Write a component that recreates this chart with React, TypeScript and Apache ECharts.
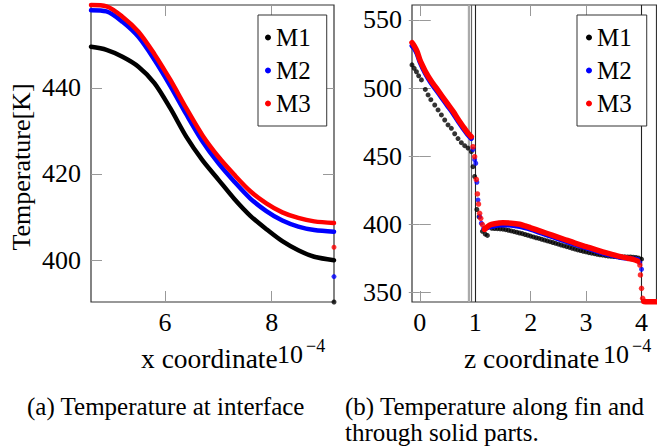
import React, { useEffect, useRef } from "react";
import * as echarts from "echarts";

// ---------- Left panel: temperature at interface ----------
const leftX = [4.61, 4.9, 5.2, 5.5, 5.8, 6.1, 6.4, 6.7, 7.0, 7.3, 7.6, 7.9, 8.2, 8.5, 8.8, 9.17];
const leftM1 = [449.5, 448.8, 447.2, 444.9, 441.1, 435.2, 428.6, 423.2, 418.7, 414.2, 410.3, 407.2, 404.4, 402.3, 400.8, 400.0];
const leftM2 = [458.0, 457.7, 455.3, 451.8, 446.5, 440.4, 433.8, 427.6, 422.5, 418.2, 414.3, 411.4, 409.2, 407.8, 407.0, 406.6];
const leftM3 = [459.2, 458.9, 456.5, 453.0, 447.8, 441.8, 435.2, 429.0, 424.0, 419.8, 416.0, 413.2, 411.1, 409.8, 409.0, 408.6];
const leftEndX = 9.17;
const leftEndM1 = 390.3;
const leftEndM2 = 396.2;
const leftEndM3 = 403.0;
const leftXTicks = [6, 8];
const leftYTicks = [400, 420, 440];

// ---------- Right panel: along fin and through solid parts ----------
const rM1Z = [-0.14, -0.1, -0.06, -0.02, 0.03, 0.1, 0.15, 0.2, 0.27, 0.33, 0.39, 0.45, 0.51, 0.57, 0.63, 0.69, 0.75, 0.81, 0.87, 0.93,
  0.96, 0.99, 1.03, 1.07, 1.13, 1.18, 1.22,
  1.3, 1.35, 1.4, 1.45, 1.5, 1.55, 1.6, 1.65, 1.7, 1.75, 1.8, 1.85, 1.9, 1.95, 2.0, 2.05, 2.1, 2.15, 2.2, 2.25, 2.3, 2.35, 2.4, 2.45, 2.5,
  2.55, 2.6, 2.65, 2.7, 2.75, 2.8, 2.85, 2.9, 2.95, 3.0, 3.05, 3.1, 3.15, 3.2, 3.25, 3.3, 3.35, 3.4, 3.45, 3.5, 3.55, 3.6, 3.65, 3.7,
  3.75, 3.8, 3.85, 3.9, 3.95, 4.0];
const rM1T = [517, 514.5, 512, 509, 506, 499, 495, 491.5, 487.6, 484, 480.3, 476.6, 473, 470.5, 466.5, 463, 460, 457.8, 456, 453.4,
  442.4, 435.2, 411, 405.7, 395, 393, 392,
  397.2, 397.1, 397.0, 396.8, 396.6, 396.2, 395.8, 395.3, 394.8, 394.3, 393.8, 393.3, 392.7, 392.1, 391.5, 390.9, 390.3, 389.8, 389.2,
  388.6, 388.0, 387.4, 386.8, 386.2, 385.6, 385.0, 384.4, 383.8, 383.2, 382.6, 382.0, 381.4, 380.9, 380.4, 379.9, 379.4, 379.0, 378.6,
  378.2, 377.8, 377.5, 377.2, 376.9, 376.7, 376.5, 376.4, 376.3, 376.3, 376.3, 376.2, 376.2, 376.0, 375.8, 375.4, 374.6];

const rM2aZ = [-0.14, -0.1, -0.05, 0, 0.1, 0.2, 0.3, 0.4, 0.5, 0.6, 0.7, 0.8, 0.87, 0.93];
const rM2aT = [531, 529, 525.3, 519.5, 510.8, 504, 498.4, 492.7, 487.1, 481.5, 475.2, 469.5, 465.6, 463];
const rM2dotZ = [0.96, 0.99, 1.01, 1.03, 1.05, 1.08, 1.11, 1.15, 3.97, 4.0];
const rM2dotT = [455, 447.5, 444.9, 431, 418, 405.7, 401, 397, 372, 367.2];
const rM2bZ = [1.2, 1.3, 1.45, 1.6, 1.75, 1.9, 2.0, 2.2, 2.4, 2.6, 2.8, 3.0, 3.2, 3.4, 3.6, 3.8, 3.93];
const rM2bT = [397.4, 398.6, 399.6, 399.6, 398.8, 397.6, 396.4, 393.6, 390.9, 388.1, 385.4, 382.8, 380.3, 378.0, 376.0, 375.0, 374.4];

const rM3aZ = [-0.14, -0.1, -0.05, 0, 0.05, 0.1, 0.2, 0.3, 0.4, 0.5, 0.6, 0.7, 0.8, 0.87, 0.93];
const rM3aT = [533.3, 531, 527, 521, 516.5, 512.3, 505.5, 499.9, 494.2, 488.6, 483, 476.6, 470.8, 466.9, 464.4];
const rM3dotZ = [0.96, 0.99, 1.02, 1.04, 1.06, 1.08, 1.1, 1.13, 1.17, 3.97, 3.98, 4.0, 4.02];
const rM3dotT = [457, 449.7, 433, 422.4, 415, 408.2, 404.5, 400, 396.5, 370.3, 363, 353.2, 345.9];
const rM3bZ = [1.17, 1.26, 1.35, 1.5, 1.65, 1.8, 1.9, 2.0, 2.2, 2.4, 2.6, 2.8, 3.0, 3.2, 3.4, 3.6, 3.75, 3.85, 3.93];
const rM3bT = [396.5, 399.6, 400.6, 401.2, 401.0, 400.2, 399.0, 397.6, 394.8, 392.0, 389.2, 386.4, 383.8, 381.2, 378.8, 376.6, 375.3, 374.4, 373.2];
const rM3cZ = [4.04, 4.1, 4.2, 4.27];
const rM3cT = [343.6, 343.4, 343.4, 343.4];

const rightXTicks = [0, 1, 2, 3, 4];
const rightYTicks = [350, 400, 450, 500, 550];
const boundaryLinesGray = [0.872, 0.893, 0.915];
const boundaryLinesBlack = [1.0, 4.0];

const seriesNames = ["M1", "M2", "M3"];
const seriesColors = ["#000000", "#0000ff", "#ff0000"];

const FONT = "Liberation Serif";

function pairs(xs: number[], ys: number[]) {
  return xs.map((x, i) => [x, ys[i]]);
}

export default function App() {
  const ref = useRef<HTMLDivElement>(null);

  useEffect(() => {
    if (!ref.current) return;
    const chart = echarts.init(ref.current, undefined, { renderer: "svg" });

    const tick = (vals: number[]) => ({
      show: true,
      inside: true,
      length: 11,
      customValues: vals,
      lineStyle: { color: "#999", width: 1 },
    });
    const label = (vals: number[], show: boolean, margin: number) => ({
      show,
      customValues: vals,
      fontSize: 26,
      lineHeight: 20,
      fontFamily: FONT,
      color: "#000",
      margin,
    });
    const valueAxis = (gridIndex: number, position: string, min: number, max: number, vals: number[], showLabel: boolean, margin: number) => ({
      type: "value",
      gridIndex,
      position,
      min,
      max,
      scale: true,
      axisLine: { show: false },
      splitLine: { show: false },
      axisTick: tick(vals),
      axisLabel: label(vals, showLabel, margin),
    });

    const L = { xMin: 4.61, xMax: 9.17, yMin: 390.3, yMax: 459.2 };
    const R = { xMin: -0.14, xMax: 4.27, yMin: 343.2, yMax: 560.9 };

    const lineSeries = (name: string, color: string, data: number[][], xi: number, yi: number, width: number, z: number) => ({
      type: "line",
      name,
      data,
      xAxisIndex: xi,
      yAxisIndex: yi,
      smooth: 0.3,
      showSymbol: false,
      symbol: "circle",
      clip: false,
      color,
      itemStyle: { color },
      lineStyle: { color, width, cap: "round", join: "round" },
      z,
    });
    const dotSeries = (name: string, color: string, data: number[][], xi: number, yi: number, size: number, z: number) => ({
      type: "scatter",
      name,
      data,
      xAxisIndex: xi,
      yAxisIndex: yi,
      symbol: "circle",
      symbolSize: size,
      clip: false,
      color,
      itemStyle: { color },
      z,
    });

    const markLineData = [
      ...boundaryLinesGray.map((v, i) => ({
        xAxis: v,
        lineStyle: { color: i === 1 ? "#aaa" : "#666", width: i === 1 ? 2 : 1.2, type: "solid" },
      })),
      ...boundaryLinesBlack.map((v) => ({ xAxis: v, lineStyle: { color: "#222", width: 1.1, type: "solid" } })),
    ];

    const rightM1 = dotSeries("M1", seriesColors[0], pairs(rM1Z, rM1T), 2, 2, 5, 3);
    (rightM1 as any).markLine = {
      silent: true,
      symbol: ["none", "none"],
      label: { show: false },
      data: markLineData,
      z: 1,
    };

    const series: any[] = [
      lineSeries("M1", seriesColors[0], pairs(leftX, leftM1), 0, 0, 4.5, 3),
      dotSeries("M1", seriesColors[0], [[leftEndX, leftEndM1]], 0, 0, 5, 3),
      lineSeries("M2", seriesColors[1], pairs(leftX, leftM2), 0, 0, 4.5, 4),
      dotSeries("M2", seriesColors[1], [[leftEndX, leftEndM2]], 0, 0, 5, 4),
      lineSeries("M3", seriesColors[2], pairs(leftX, leftM3), 0, 0, 4.5, 5),
      dotSeries("M3", seriesColors[2], [[leftEndX, leftEndM3]], 0, 0, 5, 5),
      rightM1,
      lineSeries("M2", seriesColors[1], pairs(rM2aZ, rM2aT), 2, 2, 5, 4),
      lineSeries("M2", seriesColors[1], pairs(rM2bZ, rM2bT), 2, 2, 5, 4),
      dotSeries("M2", seriesColors[1], pairs(rM2dotZ, rM2dotT), 2, 2, 5, 4),
      lineSeries("M3", seriesColors[2], pairs(rM3aZ, rM3aT), 2, 2, 5.5, 5),
      lineSeries("M3", seriesColors[2], pairs(rM3bZ, rM3bT), 2, 2, 5.5, 5),
      lineSeries("M3", seriesColors[2], pairs(rM3cZ, rM3cT), 2, 2, 5.5, 5),
      dotSeries("M3", seriesColors[2], pairs(rM3dotZ, rM3dotT), 2, 2, 5.5, 5),
    ];

    const legendBase = {
      orient: "vertical",
      data: seriesNames,
      icon: "circle",
      itemWidth: 6,
      itemHeight: 6,
      itemGap: 8,
      borderColor: "#333",
      borderWidth: 1,
      borderRadius: 0,
      backgroundColor: "#fff",
      selectedMode: false,
      textStyle: { fontSize: 25, fontFamily: FONT, color: "#000", lineHeight: 25 },
      z: 10,
    };

    const txt = (text: string, x: number, y: number, size: number, align = "left", vAlign = "middle", rotation = 0, lineHeight?: number) => ({
      type: "text",
      x,
      y,
      rotation,
      style: {
        text,
        fontSize: size,
        fontFamily: FONT,
        fill: "#000",
        align,
        verticalAlign: vAlign,
        ...(lineHeight ? { lineHeight } : {}),
      },
      z: 20,
    });

    chart.setOption({
      animation: false,
      backgroundColor: "#fff",
      textStyle: { fontFamily: FONT },
      grid: [
        { left: 91, top: 5, width: 243, height: 297, show: true, borderColor: "#333", borderWidth: 1.2, backgroundColor: "transparent" },
        { left: 412, top: 5, width: 244.5, height: 297, show: true, borderColor: "#333", borderWidth: 1.2, backgroundColor: "transparent" },
      ],
      xAxis: [
        valueAxis(0, "bottom", L.xMin, L.xMax, leftXTicks, true, 10),
        valueAxis(0, "top", L.xMin, L.xMax, leftXTicks, false, 10),
        valueAxis(1, "bottom", R.xMin, R.xMax, rightXTicks, true, 10),
        valueAxis(1, "top", R.xMin, R.xMax, rightXTicks, false, 10),
      ],
      yAxis: [
        valueAxis(0, "left", L.yMin, L.yMax, leftYTicks, true, 10),
        valueAxis(0, "right", L.yMin, L.yMax, leftYTicks, false, 10),
        valueAxis(1, "left", R.yMin, R.yMax, rightYTicks, true, 10),
        valueAxis(1, "right", R.yMin, R.yMax, rightYTicks, false, 10),
      ],
      legend: [
        { ...legendBase, left: 258, top: 15, padding: [10, 16, 10, 7] },
        { ...legendBase, left: 577, top: 15, padding: [10, 15, 10, 9] },
      ],
      series,
      graphic: [
        txt("Temperature[K]", 21, 167, 26, "center", "middle", Math.PI / 2),
        txt("x coordinate", 141, 358, 27.5),
        txt("10", 277, 354, 26, "left", "middle", 0, 20),
        txt("\u22124", 306, 346, 18, "left", "middle", 0, 14),
        txt("z coordinate", 464, 358, 27.5),
        txt("10", 603, 354, 26, "left", "middle", 0, 20),
        txt("\u22124", 632, 346, 18, "left", "middle", 0, 14),
        txt("(a) Temperature at interface", 27, 406, 25),
        txt("(b) Temperature along fin and", 345, 406, 25),
        txt("through solid parts.", 345, 432, 25),
      ],
    });

    return () => chart.dispose();
  }, []);

  return (
    <div
      ref={ref}
      style={{ position: "fixed", left: 0, top: 0, width: 657, height: 446, background: "#fff" }}
    />
  );
}
